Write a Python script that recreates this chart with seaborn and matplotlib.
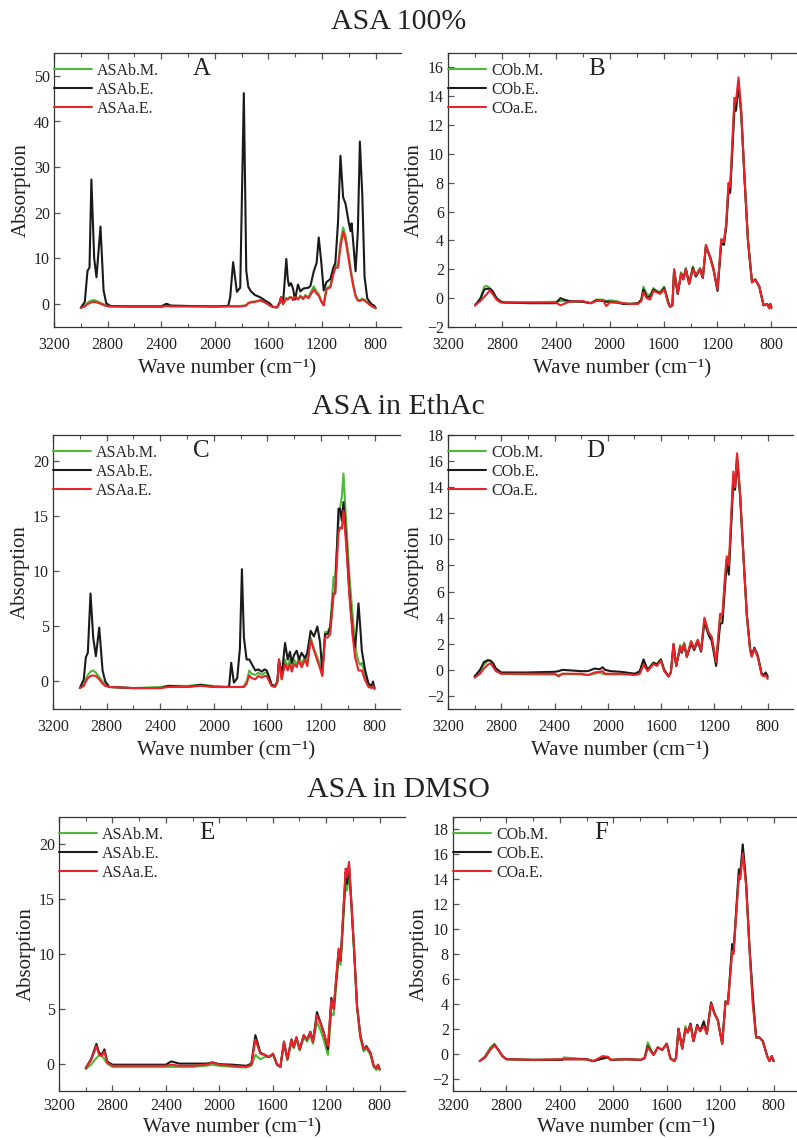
import pandas as pd
import matplotlib
matplotlib.use("Agg")
import matplotlib.pyplot as plt
from matplotlib.ticker import MultipleLocator
import seaborn as sns

# =========================================================
# DADOS
# =========================================================

LABELS_ASA = ["ASAb.M.", "ASAb.E.", "ASAa.E."]
LABELS_CO = ["COb.M.", "COb.E.", "COa.E."]
TITLES = ["ASA 100%", "ASA in EthAc", "ASA in DMSO"]
LETTERS = ["A", "B", "C", "D", "E", "F"]

# --- Painel A ---
wn_A = [3000, 2970, 2950, 2935, 2921, 2900, 2883, 2853, 2830, 2810,
        2780, 2600, 2400, 2360, 2330, 2200, 2000, 1900, 1885, 1863,
        1835, 1810, 1783, 1765, 1750, 1730, 1700, 1660, 1620, 1590,
        1565, 1535, 1515, 1505, 1490, 1466, 1455, 1446, 1431, 1416,
        1401, 1379, 1361, 1340, 1324, 1300, 1286, 1261, 1240, 1224,
        1206, 1187, 1167, 1137, 1115, 1100, 1080, 1062, 1042, 1024,
        999, 987, 979, 967, 949, 932, 917, 899, 882, 862,
        840, 825, 812, 800]
A_bm = [-0.8, -0.3, 0.3, 0.6, 0.8, 0.9, 0.7, 0.3, 0.0, -0.3,
        -0.5, -0.5, -0.5, -0.3, -0.4, -0.4, -0.5, -0.4, -0.4, -0.4,
        -0.4, -0.4, -0.3, -0.2, 0.3, 0.5, 0.6, 0.9, 0.4, -0.3,
        -0.6, -0.7, 0.3, 1.6, 0.0, 1.4, 1.1, 1.5, 1.6, 1.0,
        1.9, 1.1, 1.9, 1.3, 2.0, 1.5, 2.5, 3.9, 2.8, 2.2,
        0.8, -0.2, 3.5, 4.0, 7.0, 8.5, 8.5, 13.5, 16.8, 15.0,
        10.5, 8.0, 6.5, 4.5, 2.0, 1.0, 0.9, 1.2, 1.0, 0.4,
        -0.2, -0.5, -0.6, -0.9]
A_be = [-0.8, 0.5, 7.3, 8.0, 27.3, 10.0, 5.9, 17.0, 3.0, 0.2,
        -0.4, -0.5, -0.5, 0.1, -0.3, -0.4, -0.5, -0.4, 1.5, 9.2,
        2.7, 3.6, 46.2, 7.4, 3.8, 2.8, 2.0, 1.5, 0.7, 0.2,
        -0.6, -0.7, 0.5, 1.5, 0.3, 9.9, 5.5, 4.0, 4.6, 3.4,
        1.0, 4.3, 2.8, 3.4, 3.5, 3.6, 4.0, 7.2, 9.0, 14.6,
        9.5, 3.0, 4.8, 5.5, 8.0, 9.0, 18.0, 32.5, 23.4, 22.0,
        17.7, 16.0, 17.7, 13.7, 7.2, 16.0, 35.6, 24.0, 6.0, 1.3,
        0.3, -0.1, -0.3, -0.8]
A_ae = [-0.8, -0.5, 0.0, 0.2, 0.4, 0.5, 0.4, 0.1, -0.2, -0.4,
        -0.5, -0.5, -0.6, -0.4, -0.5, -0.5, -0.5, -0.5, -0.5, -0.5,
        -0.5, -0.5, -0.4, -0.3, 0.2, 0.4, 0.5, 0.8, 0.3, -0.3,
        -0.6, -0.7, 0.3, 1.5, 0.0, 1.2, 1.0, 1.3, 1.5, 0.9,
        1.6, 1.0, 1.7, 1.1, 1.8, 1.3, 2.0, 3.2, 2.3, 1.9,
        0.6, -0.3, 3.2, 3.7, 6.5, 8.0, 8.0, 12.5, 15.8, 14.0,
        9.5, 7.3, 6.0, 4.0, 1.7, 0.8, 0.7, 1.0, 0.8, 0.3,
        -0.2, -0.5, -0.7, -0.9]

# --- Painel B ---
wn_B = [3000, 2960, 2930, 2910, 2890, 2870, 2840, 2810, 2780, 2600,
        2400, 2365, 2340, 2300, 2200, 2140, 2100, 2050, 2025, 2000,
        1950, 1900, 1850, 1790, 1765, 1750, 1725, 1700, 1676, 1650,
        1626, 1596, 1584, 1565, 1552, 1535, 1522, 1495, 1470, 1453,
        1435, 1410, 1383, 1361, 1329, 1309, 1286, 1254, 1230, 1200,
        1172, 1152, 1135, 1118, 1106, 1090, 1074, 1063, 1044, 1024,
        999, 974, 944, 920, 890, 858, 833, 816, 808, 800]
B_bm = [-0.5, 0.0, 0.8, 0.85, 0.7, 0.5, 0.0, -0.2, -0.3, -0.3,
        -0.25, -0.2, -0.2, -0.25, -0.25, -0.35, -0.1, -0.1, -0.2, -0.15,
        -0.2, -0.35, -0.4, -0.35, -0.1, 0.8, 0.3, 0.2, 0.7, 0.5,
        0.4, 0.8, 0.4, -0.3, -0.6, -0.5, 2.0, 0.3, 1.8, 1.4,
        2.1, 1.0, 2.2, 1.6, 2.1, 1.4, 3.6, 2.9, 2.1, 0.6,
        4.0, 3.9, 5.1, 7.9, 7.6, 10.5, 13.6, 13.2, 15.0, 12.8,
        8.3, 4.0, 1.1, 1.3, 0.8, -0.5, -0.4, -0.7, -0.4, -0.7]
B_be = [-0.5, -0.05, 0.6, 0.65, 0.65, 0.5, 0.0, -0.25, -0.3, -0.35,
        -0.35, 0.0, -0.1, -0.2, -0.25, -0.35, -0.15, -0.2, -0.25, -0.25,
        -0.3, -0.4, -0.4, -0.35, -0.1, 0.6, 0.1, 0.1, 0.6, 0.45,
        0.35, 0.7, 0.35, -0.3, -0.6, -0.5, 1.9, 0.3, 1.7, 1.3,
        2.0, 1.0, 2.1, 1.5, 2.0, 1.4, 3.6, 2.8, 2.0, 0.5,
        3.8, 3.7, 5.0, 7.5, 7.3, 10.2, 13.2, 13.0, 14.8, 12.8,
        8.2, 4.0, 1.1, 1.3, 0.8, -0.5, -0.4, -0.6, -0.4, -0.6]
B_ae = [-0.5, -0.2, 0.1, 0.3, 0.55, 0.3, -0.1, -0.3, -0.3, -0.3,
        -0.3, -0.5, -0.4, -0.25, -0.2, -0.35, -0.2, -0.15, -0.55, -0.3,
        -0.3, -0.35, -0.4, -0.4, -0.2, 0.4, 0.0, -0.1, 0.5, 0.4,
        0.3, 0.6, 0.3, -0.4, -0.6, -0.5, 2.0, 0.3, 1.7, 1.3,
        2.0, 1.0, 2.0, 1.6, 2.0, 1.4, 3.7, 2.8, 2.0, 0.6,
        4.1, 3.9, 5.2, 8.0, 7.7, 10.8, 13.9, 13.6, 15.3, 13.0,
        8.3, 4.0, 1.1, 1.3, 0.8, -0.5, -0.4, -0.7, -0.4, -0.7]

# --- Painel C ---
wn_C = [3000, 2970, 2955, 2940, 2920, 2900, 2880, 2855, 2830, 2810,
        2780, 2600, 2400, 2340, 2200, 2100, 2000, 1900, 1885, 1870,
        1850, 1825, 1805, 1790, 1775, 1755, 1735, 1717, 1690, 1668,
        1643, 1620, 1605, 1586, 1568, 1543, 1525, 1513, 1493, 1468,
        1448, 1431, 1418, 1401, 1381, 1364, 1344, 1319, 1302, 1277,
        1252, 1227, 1207, 1190, 1169, 1150, 1131, 1106, 1094, 1069,
        1057, 1044, 1032, 1012, 987, 962, 945, 932, 920, 907,
        895, 870, 845, 820, 812, 800]
C_bm = [-0.6, -0.3, 0.2, 0.6, 0.9, 1.0, 0.8, 0.4, 0.0, -0.3,
        -0.5, -0.6, -0.5, -0.4, -0.4, -0.3, -0.4, -0.5, -0.5, -0.5,
        -0.5, -0.5, -0.5, -0.5, -0.4, 0.0, 1.0, 0.7, 0.6, 0.8,
        0.6, 0.8, 0.8, 0.2, -0.4, -0.5, 0.0, 1.8, 0.2, 2.0,
        1.3, 2.0, 1.2, 2.0, 1.5, 2.2, 1.6, 2.3, 1.6, 4.0,
        3.0, 2.2, 1.5, 0.6, 4.5, 4.5, 5.0, 9.5, 9.5, 14.5,
        15.8, 16.8, 18.9, 14.5, 9.5, 5.8, 3.4, 2.4, 1.8, 1.5,
        1.7, 0.6, -0.4, -0.5, -0.3, -0.6]
C_be = [-0.6, 0.2, 2.2, 2.6, 8.0, 4.0, 2.3, 4.9, 1.0, 0.0,
        -0.5, -0.6, -0.6, -0.4, -0.5, -0.3, -0.5, -0.5, -0.4, 1.7,
        -0.1, 0.3, 3.0, 10.2, 4.0, 2.0, 2.0, 1.6, 1.0, 1.1,
        0.9, 1.1, 1.0, 0.4, -0.3, -0.4, 0.0, 2.0, 0.5, 3.5,
        2.0, 2.7, 1.7, 2.4, 2.8, 2.0, 2.6, 2.1, 2.6, 4.6,
        4.1, 5.0, 3.6, 0.9, 4.3, 4.3, 4.9, 8.0, 8.0, 15.7,
        15.7, 14.6, 16.3, 13.0, 8.0, 4.3, 3.1, 5.0, 7.1, 5.0,
        2.8, 1.0, -0.2, -0.4, 0.0, -0.6]
C_ae = [-0.6, -0.4, 0.0, 0.3, 0.5, 0.55, 0.5, 0.2, -0.2, -0.4,
        -0.5, -0.6, -0.6, -0.5, -0.5, -0.4, -0.5, -0.5, -0.5, -0.5,
        -0.5, -0.5, -0.5, -0.5, -0.5, -0.2, 0.55, 0.3, 0.2, 0.5,
        0.35, 0.5, 0.5, 0.0, -0.4, -0.5, 0.0, 2.0, 0.2, 1.6,
        1.0, 1.6, 0.9, 1.6, 1.3, 1.9, 1.3, 2.0, 1.4, 3.8,
        2.8, 1.9, 1.2, 0.5, 4.0, 4.0, 4.3, 8.0, 8.0, 13.5,
        14.0, 13.9, 15.5, 12.5, 7.7, 4.0, 2.2, 1.6, 1.0, 1.0,
        1.0, 0.1, -0.5, -0.6, -0.4, -0.7]

# --- Painel D ---
wn_D = [3000, 2960, 2930, 2900, 2880, 2860, 2840, 2800, 2600, 2400,
        2370, 2340, 2200, 2150, 2100, 2060, 2040, 2020, 1980, 1900,
        1795, 1760, 1732, 1702, 1657, 1632, 1602, 1577, 1545, 1527,
        1507, 1487, 1457, 1445, 1427, 1407, 1375, 1352, 1325, 1300,
        1275, 1245, 1220, 1187, 1157, 1140, 1120, 1107, 1092, 1058,
        1045, 1030, 1007, 982, 957, 932, 920, 900, 875, 845,
        825, 815, 800]
D_bm = [-0.5, -0.2, 0.4, 0.7, 0.65, 0.3, 0.0, -0.3, -0.35, -0.35,
        -0.4, -0.3, -0.35, -0.4, -0.3, -0.2, -0.3, -0.35, -0.35, -0.35,
        -0.3, -0.1, 0.7, 0.0, 0.55, 0.45, 0.8, 0.0, -0.5, -0.2,
        2.0, 0.3, 1.9, 1.5, 2.1, 1.0, 2.2, 1.7, 2.3, 1.5,
        3.9, 2.9, 2.5, 0.5, 4.0, 4.0, 7.0, 8.5, 7.6, 14.8,
        13.9, 16.4, 13.5, 8.7, 4.2, 1.6, 1.1, 1.6, 1.1, -0.3,
        -0.4, -0.3, -0.6]
D_be = [-0.5, 0.0, 0.6, 0.75, 0.7, 0.5, 0.1, -0.2, -0.2, -0.15,
        -0.1, 0.0, -0.1, -0.1, 0.1, 0.05, 0.2, 0.0, -0.1, -0.15,
        -0.3, -0.1, 0.8, 0.0, 0.55, 0.4, 0.8, 0.0, -0.5, -0.2,
        1.9, 0.3, 1.7, 1.3, 1.9, 1.0, 2.0, 1.5, 2.2, 1.4,
        3.7, 2.7, 2.2, 0.3, 3.5, 3.6, 6.5, 8.3, 7.3, 14.5,
        13.8, 16.2, 13.3, 8.7, 4.3, 1.6, 1.1, 1.7, 1.1, -0.3,
        -0.4, -0.2, -0.5]
D_ae = [-0.6, -0.3, 0.1, 0.4, 0.5, 0.2, -0.1, -0.3, -0.3, -0.3,
        -0.5, -0.3, -0.3, -0.4, -0.2, -0.15, -0.1, -0.3, -0.3, -0.3,
        -0.4, -0.3, 0.4, -0.1, 0.45, 0.3, 0.7, -0.1, -0.5, -0.2,
        2.0, 0.3, 1.8, 1.4, 2.0, 1.0, 2.2, 1.6, 2.3, 1.5,
        4.0, 2.9, 2.5, 0.6, 4.3, 4.2, 7.2, 8.7, 8.0, 15.2,
        14.0, 16.6, 13.5, 8.7, 4.2, 1.5, 1.0, 1.6, 1.0, -0.4,
        -0.5, -0.4, -0.7]

# --- Painel E ---
wn_E = [3000, 2960, 2920, 2900, 2880, 2860, 2840, 2800, 2600, 2400,
        2360, 2300, 2200, 2100, 2050, 2000, 1900, 1797, 1760, 1730,
        1693, 1660, 1628, 1598, 1568, 1543, 1516, 1490, 1460, 1443,
        1423, 1398, 1368, 1344, 1318, 1299, 1269, 1244, 1219, 1187,
        1161, 1144, 1107, 1092, 1054, 1044, 1029, 1011, 991, 969,
        944, 919, 899, 869, 844, 824, 812, 800]
E_bm = [-0.5, -0.1, 0.5, 0.75, 0.7, 0.4, 0.0, -0.3, -0.3, -0.3,
        -0.3, -0.3, -0.3, -0.2, -0.1, -0.2, -0.3, -0.35, -0.2, 0.8,
        0.4, 0.6, 0.6, 0.8, -0.1, -0.3, 1.8, 0.3, 2.0, 1.4,
        2.2, 1.2, 2.4, 2.0, 2.6, 1.8, 3.8, 3.1, 2.2, 0.8,
        4.6, 4.4, 9.6, 9.0, 16.5, 15.8, 17.5, 14.2, 10.2, 5.0,
        2.3, 1.1, 1.4, 0.8, -0.3, -0.6, -0.2, -0.6]
E_be = [-0.4, 0.4, 1.8, 1.0, 0.8, 1.3, 0.2, -0.1, -0.1, -0.1,
        0.2, 0.0, 0.0, 0.0, 0.1, -0.05, -0.1, -0.2, 0.0, 2.6,
        1.0, 0.8, 0.6, 0.9, -0.1, -0.3, 2.0, 0.4, 2.2, 1.5,
        2.4, 1.3, 2.6, 2.2, 2.9, 2.0, 4.7, 3.8, 2.9, 1.3,
        6.0, 5.0, 10.2, 9.4, 17.5, 16.4, 18.2, 14.6, 10.4, 5.3,
        2.6, 1.3, 1.6, 1.0, -0.2, -0.4, -0.1, -0.5]
E_ae = [-0.4, 0.3, 1.6, 0.8, 0.7, 1.1, 0.1, -0.2, -0.2, -0.2,
        -0.1, -0.2, -0.2, -0.1, 0.1, -0.1, -0.2, -0.3, -0.1, 2.2,
        0.9, 0.8, 0.6, 0.9, -0.1, -0.3, 2.0, 0.4, 2.2, 1.5,
        2.4, 1.3, 2.6, 2.2, 2.9, 2.0, 4.4, 3.7, 2.8, 1.6,
        5.8, 5.0, 10.5, 9.4, 17.8, 17.0, 18.4, 14.6, 10.4, 5.2,
        2.5, 1.3, 1.5, 1.0, -0.2, -0.4, -0.1, -0.5]

# --- Painel F ---
wn_F = [3000, 2960, 2920, 2890, 2860, 2830, 2800, 2600, 2380, 2370,
        2200, 2150, 2080, 2040, 2020, 1900, 1791, 1765, 1742, 1699,
        1667, 1634, 1600, 1572, 1542, 1530, 1512, 1484, 1460, 1443,
        1422, 1400, 1372, 1350, 1323, 1300, 1268, 1243, 1218, 1185,
        1160, 1142, 1110, 1100, 1060, 1050, 1031, 1006, 981, 956,
        931, 906, 881, 848, 831, 814, 800]
F_bm = [-0.6, -0.2, 0.5, 0.8, 0.3, -0.2, -0.45, -0.5, -0.45, -0.3,
        -0.45, -0.6, -0.3, -0.3, -0.5, -0.45, -0.5, -0.3, 0.9, -0.1,
        0.5, 0.3, 0.8, -0.4, -0.6, -0.3, 2.0, 0.4, 2.2, 1.7,
        2.4, 1.0, 2.3, 1.8, 2.4, 1.6, 4.1, 3.3, 2.7, 0.8,
        4.2, 4.0, 8.5, 8.2, 14.5, 14.2, 16.3, 13.6, 8.5, 4.2,
        1.3, 1.3, 1.0, -0.2, -0.6, -0.2, -0.6]
F_be = [-0.6, -0.3, 0.35, 0.7, 0.3, -0.2, -0.45, -0.5, -0.5, -0.45,
        -0.45, -0.6, -0.4, -0.3, -0.5, -0.45, -0.5, -0.35, 0.6, -0.1,
        0.5, 0.3, 0.8, -0.4, -0.6, -0.3, 2.0, 0.4, 2.0, 1.7,
        2.4, 1.0, 2.3, 1.8, 2.6, 1.6, 4.1, 3.2, 2.7, 0.8,
        4.2, 4.0, 8.8, 8.2, 14.8, 14.4, 16.8, 13.8, 8.6, 4.7,
        1.3, 1.3, 1.0, -0.2, -0.6, -0.2, -0.6]
F_ae = [-0.6, -0.3, 0.35, 0.65, 0.3, -0.2, -0.45, -0.5, -0.45, -0.45,
        -0.45, -0.6, -0.2, -0.25, -0.5, -0.45, -0.5, -0.35, 0.5, -0.1,
        0.5, 0.3, 0.8, -0.4, -0.6, -0.3, 2.0, 0.4, 2.0, 1.7,
        2.3, 1.0, 2.2, 1.8, 2.2, 1.6, 4.0, 3.2, 2.7, 0.8,
        4.2, 4.0, 8.2, 8.0, 14.3, 14.0, 16.1, 13.5, 8.5, 4.0,
        1.3, 1.3, 1.0, -0.2, -0.6, -0.2, -0.6]

# =========================================================
# CONFIGURAÇÕES
# =========================================================

COLORS = ["#4fb83a", "#1a1a1a", "#e8232a"]
FIG_W, FIG_H = 797, 1140
XLABEL = "Wave number (cm\u207b\u00b9)"

sns.set_theme(style="ticks")
plt.rcParams['font.family'] = ['Liberation Serif', 'DejaVu Serif']


def px_axes(fig, left, top, width, height):
    """Cria eixos a partir de coordenadas em pixels (origem no topo)."""
    return fig.add_axes([left / FIG_W, 1 - (top + height) / FIG_H,
                         width / FIG_W, height / FIG_H])


def draw_panel(ax, wn, bm, be, ae, labels, letter, ylim, ystep, xpad):
    df = pd.DataFrame({'wn': wn, labels[0]: bm, labels[1]: be, labels[2]: ae})
    long = df.melt(id_vars='wn', var_name='serie', value_name='abs')
    sns.lineplot(data=long, x='wn', y='abs', hue='serie',
                 palette=dict(zip(labels, COLORS)), hue_order=labels,
                 sort=False, estimator=None, linewidth=1.5, ax=ax)

    ax.set_xlim(3200, 610)
    ax.set_ylim(*ylim)
    ax.xaxis.set_major_locator(MultipleLocator(400))
    ax.xaxis.set_minor_locator(MultipleLocator(200))
    ax.yaxis.set_major_locator(MultipleLocator(ystep))

    ax.tick_params(which='both', direction='in', top=True, right=False,
                   colors='#555555', labelcolor='#222222', labelsize=11.5)
    ax.tick_params(which='major', length=4.5, width=0.9)
    ax.tick_params(which='minor', length=3, width=0.8)
    ax.tick_params(axis='x', pad=xpad[0])
    ax.tick_params(axis='y', pad=3)
    for side in ['left', 'top', 'bottom']:
        ax.spines[side].set_color('#333333')
        ax.spines[side].set_linewidth(0.9)
    ax.spines['right'].set_visible(False)

    ax.set_xlabel(XLABEL, fontsize=15, color='#222222', labelpad=xpad[1])
    ax.set_ylabel("Absorption", fontsize=15, color='#222222', labelpad=2)

    handles, _ = ax.get_legend_handles_labels()
    ax.legend(handles, labels, loc='upper left', bbox_to_anchor=(0, 0.965),
              frameon=False, fontsize=11.5, handlelength=2.4,
              handletextpad=0.3, labelspacing=0.2, borderaxespad=0,
              borderpad=0)
    ax.text(0.427, 0.94, letter, transform=ax.transAxes, ha='center',
            va='center', fontsize=18, color='#222222')


fig = plt.figure(figsize=(FIG_W / 100, FIG_H / 100), dpi=100)

top_pad = (7, 5)
bottom_pad = (5, 3)
panels = [
    (px_axes(fig, 54, 53, 347, 274), wn_A, A_bm, A_be, A_ae, LABELS_ASA, (-5, 55), 10, top_pad),
    (px_axes(fig, 448, 53, 349, 274), wn_B, B_bm, B_be, B_ae, LABELS_CO, (-2, 17), 2, top_pad),
    (px_axes(fig, 53, 435, 347, 274), wn_C, C_bm, C_be, C_ae, LABELS_ASA, (-2.5, 22.4), 5, top_pad),
    (px_axes(fig, 448, 435, 345, 274), wn_D, D_bm, D_be, D_ae, LABELS_CO, (-3, 18), 2, top_pad),
    (px_axes(fig, 59, 817, 346, 274), wn_E, E_bm, E_be, E_ae, LABELS_ASA, (-2.5, 22.5), 5, bottom_pad),
    (px_axes(fig, 453, 817, 346, 274), wn_F, F_bm, F_be, F_ae, LABELS_CO, (-3, 19), 2, bottom_pad),
]

for (ax, wn, bm, be, ae, labels, ylim, ystep, xpad), letter in zip(panels, LETTERS):
    draw_panel(ax, wn, bm, be, ae, labels, letter, ylim, ystep, xpad)

for title, y in zip(TITLES, [22, 407, 790]):
    fig.text(0.5, 1 - y / FIG_H, title, ha='center', va='center',
             fontsize=21.5, color='#222222')

fig.savefig("out.png", dpi=100)
plt.close(fig)
